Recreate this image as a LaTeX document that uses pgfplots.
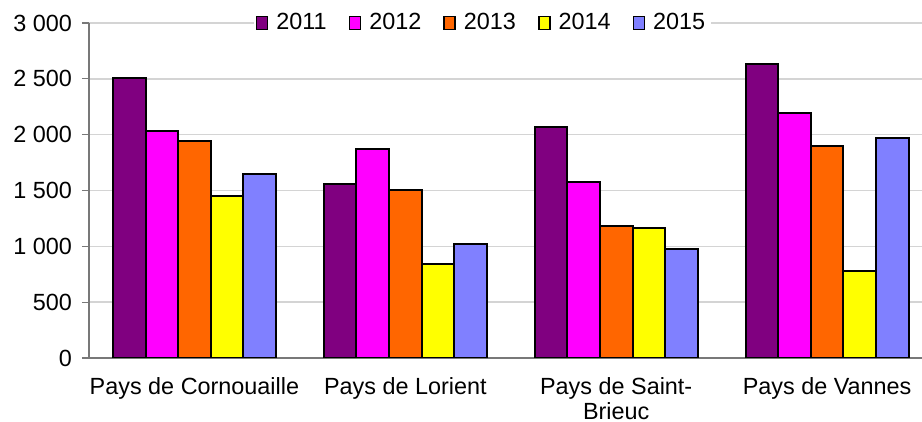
\documentclass[border=0pt]{standalone}
\usepackage{pgfplots}
\pgfplotsset{compat=1.18}
\usepackage{fontspec}
\setmainfont{Liberation Sans}
\definecolor{c2011}{HTML}{800080}
\definecolor{c2012}{HTML}{FF00FF}
\definecolor{c2013}{HTML}{FF6600}
\definecolor{c2014}{HTML}{FFFF00}
\definecolor{c2015}{HTML}{8080FF}
\definecolor{gridc}{RGB}{212,212,212}
\definecolor{axisc}{RGB}{120,120,120}
\begin{document}
\begin{tikzpicture}
\useasboundingbox (-44.5pt,-32pt) rectangle (416.5pt,179pt);
\begin{axis}[
  scale only axis, width=416.5pt, height=167.5pt,
  ybar=0pt, bar width=16.3pt,
  xmin=-0.5, xmax=3.45, ymin=0, ymax=3000,
  xtick={0,1,2,3},
  xticklabels={Pays de Cornouaille, Pays de Lorient, {Pays de Saint-\\Brieuc}, Pays de Vannes},
  xticklabel style={align=center, yshift=-2.5pt},
  yticklabel style={xshift=-1.5pt},
  ytick={0,500,1000,1500,2000,2500,3000},
  scaled y ticks=false,
  axis lines*=left,
  axis line style={draw=axisc, line width=0.6pt},
  x axis line style={draw=axisc},
  major x tick style={draw=none},
  major y tick style={draw=axisc, line width=0.6pt},
  tick align=outside,
  major tick length=3.5pt,
  ymajorgrids, grid style={draw=gridc, line width=0.8pt},
  tick label style={font=\fontsize{11.7}{12.5}\selectfont},
  /pgf/number format/.cd, 1000 sep={\ }, assume math mode=true,
  /pgfplots/.cd,
  legend style={at={(0.4724,1)}, anchor=center, legend columns=5, draw=none, fill=white,
    font=\fontsize{11.7}{12.5}\selectfont, inner sep=1pt,
    /tikz/every odd column/.append style={column sep=2pt},
    /tikz/every even column/.append style={column sep=9pt}},
  legend image code/.code={\draw[#1,draw=black,line width=0.8pt] (0pt,-3.2pt) rectangle (5.5pt,3.2pt);},
  every axis plot/.append style={draw=black, line width=1pt},
]
\addplot[fill=c2011] coordinates {(0,2510) (1,1555) (2,2070) (3,2635)};
\addplot[fill=c2012] coordinates {(0,2030) (1,1870) (2,1575) (3,2195)};
\addplot[fill=c2013] coordinates {(0,1940) (1,1505) (2,1185) (3,1895)};
\addplot[fill=c2014] coordinates {(0,1450) (1,840) (2,1160) (3,775)};
\addplot[fill=c2015] coordinates {(0,1645) (1,1025) (2,980) (3,1970)};
\legend{2011,2012,2013,2014,2015}
\end{axis}
\end{tikzpicture}
\end{document}
